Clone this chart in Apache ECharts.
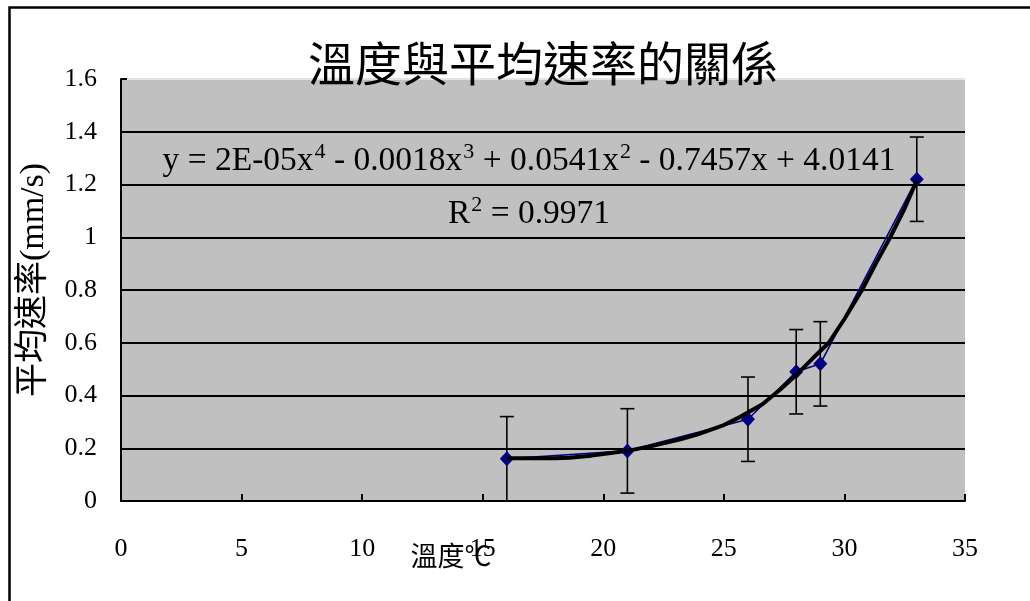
<!DOCTYPE html>
<html>
<head>
<meta charset="utf-8">
<title>溫度與平均速率的關係</title>
<script src="https://cdn.jsdelivr.net/npm/echarts@6/dist/echarts.min.js"></script>
<style>
  html, body { margin: 0; padding: 0; background: #ffffff; }
  #chart { width: 1030px; height: 601px; }
</style>
</head>
<body>
<div id="chart"></div>
<script>
// Measured temperatures (°C) and mean rates (mm/s)
const temps = [16, 21, 26, 28, 29, 33];
const rates = [0.16, 0.19, 0.31, 0.49, 0.52, 1.22];
const errors = [0.16, 0.16, 0.16, 0.16, 0.16, 0.16];

// Fitted 4th-order polynomial trendline, sampled along the curve
const trendX = [16, 17, 18, 18.6, 19.5, 20, 21, 22, 23.2, 24, 25, 25.7, 26.6, 27.35, 28, 28.7, 29.35, 30, 30.73, 31.3, 31.9, 32.5, 33];
const trendY = [0.162, 0.162, 0.162, 0.164, 0.172, 0.178, 0.19, 0.208, 0.234, 0.255, 0.288, 0.32, 0.367, 0.424, 0.478, 0.542, 0.6, 0.69, 0.8, 0.9, 1.0, 1.11, 1.215];

const titleText = '溫度與平均速率的關係';
const xName = '溫度℃';
const yName = '平均速率(mm/s)';

const serif = "'Liberation Serif', 'Times New Roman', serif";
const cjk = "'Noto Sans CJK TC', 'Noto Sans CJK SC', sans-serif";
const mixed = "'Liberation Serif', 'Noto Sans CJK TC', serif";

const points = temps.map((t, i) => [t, rates[i]]);
const bars = temps.map((t, i) => [t, rates[i] - errors[i], rates[i] + errors[i]]);
const trend = trendX.map((t, i) => [t, trendY[i]]);

const chart = echarts.init(document.getElementById('chart'), null, { renderer: 'canvas' });

const eqRich = {
  n: { fontFamily: serif, fontSize: 33.5, lineHeight: 40, color: '#000' },
  s: { fontFamily: serif, fontSize: 22, lineHeight: 40, verticalAlign: 'top', color: '#000', padding: [0, 0, 0, 1] }
};

chart.setOption({
  animation: false,
  backgroundColor: '#ffffff',
  title: {
    text: titleText,
    left: 538,
    top: 35,
    textAlign: 'center',
    textStyle: { fontFamily: cjk, fontSize: 47, fontWeight: 'normal', color: '#000' }
  },
  grid: {
    left: 121, right: 65, top: 79, bottom: 100,
    show: true, backgroundColor: '#c0c0c0', borderWidth: 0
  },
  xAxis: {
    type: 'value',
    min: 0, max: 35, interval: 5,
    axisLine: { show: true, lineStyle: { color: '#000', width: 2 } },
    axisTick: { show: true, inside: true, length: 7, lineStyle: { color: '#000', width: 2 } },
    axisLabel: { margin: 35, fontFamily: serif, fontSize: 26, color: '#000' },
    splitLine: { show: false }
  },
  yAxis: {
    type: 'value',
    min: 0, max: 1.6, interval: 0.2,
    name: yName,
    nameLocation: 'middle',
    nameRotate: 90,
    nameGap: 70,
    nameTextStyle: { fontFamily: mixed, fontSize: 34, color: '#000', padding: [0, 0, 0, 20] },
    axisLine: { show: true, lineStyle: { color: '#000', width: 2 } },
    axisTick: { show: true, inside: true, length: 6, lineStyle: { color: '#000', width: 2 } },
    axisLabel: { margin: 24, fontFamily: serif, fontSize: 26, color: '#000' },
    splitLine: {
      show: true,
      lineStyle: {
        color: ['#000', '#000', '#000', '#000', '#000', '#000', '#000', '#000', '#e4e4e4'],
        width: 2
      }
    }
  },
  graphic: [
    {
      type: 'rect',
      left: 7, top: 5,
      shape: { x: 0, y: 0, width: 1100, height: 700 },
      style: { fill: 'none', stroke: '#000', lineWidth: 2.5 },
      silent: true, z: 100
    },
    {
      type: 'text',
      x: 451, y: 556,
      style: { text: xName, fontFamily: cjk, fontSize: 27, fill: '#000', align: 'center', verticalAlign: 'middle' },
      z: 100
    },
    {
      type: 'text',
      x: 529, y: 161,
      style: {
        text: '{n|y = 2E-05x}{s|4}{n| - 0.0018x}{s|3}{n| + 0.0541x}{s|2}{n| - 0.7457x + 4.0141}',
        rich: eqRich, align: 'center', verticalAlign: 'middle'
      },
      z: 100
    },
    {
      type: 'text',
      x: 529, y: 214,
      style: {
        text: '{n|R}{s|2}{n| = 0.9971}',
        rich: eqRich, align: 'center', verticalAlign: 'middle'
      },
      z: 100
    }
  ],
  series: [
    {
      name: 'error',
      type: 'custom',
      data: bars,
      encode: { x: 0, y: [1, 2] },
      z: 2,
      renderItem: function (params, api) {
        const x = api.value(0);
        const lo = api.coord([x, api.value(1)]);
        const hi = api.coord([x, api.value(2)]);
        const half = 7;
        const st = { stroke: '#000', lineWidth: 1.6 };
        return {
          type: 'group',
          children: [
            { type: 'line', shape: { x1: hi[0], y1: hi[1], x2: lo[0], y2: lo[1] }, style: st },
            { type: 'line', shape: { x1: hi[0] - half, y1: hi[1], x2: hi[0] + half, y2: hi[1] }, style: st },
            { type: 'line', shape: { x1: lo[0] - half, y1: lo[1], x2: lo[0] + half, y2: lo[1] }, style: st }
          ]
        };
      }
    },
    {
      name: 'rate',
      type: 'line',
      data: points,
      z: 3,
      symbol: 'diamond',
      symbolSize: [14, 15],
      showSymbol: true,
      itemStyle: { color: '#000080' },
      lineStyle: { color: '#000080', width: 1.6 }
    },
    {
      name: 'trend',
      type: 'line',
      data: trend,
      z: 4,
      showSymbol: false,
      symbol: 'none',
      smooth: false,
      lineStyle: { color: '#000', width: 4 }
    }
  ]
});
</script>
</body>
</html>
